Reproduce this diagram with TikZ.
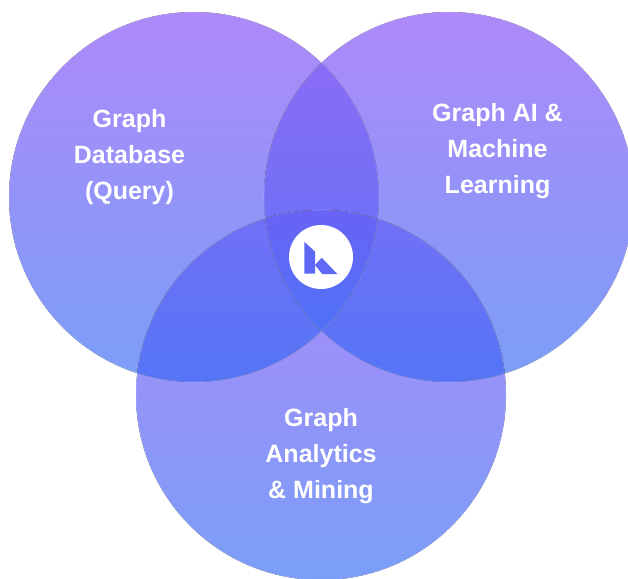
\documentclass[tikz,border=0pt]{standalone}
\usepackage{fontspec}
\setmainfont{Liberation Sans}
\definecolor{topc}{HTML}{AD89F9}
\definecolor{botc}{HTML}{7A9EF8}
\definecolor{pairtop}{HTML}{926AF6}
\definecolor{pairbot}{HTML}{5575F6}
\definecolor{tripletop}{HTML}{6A62F5}
\definecolor{triplebot}{HTML}{4E72F6}
\definecolor{logoc}{HTML}{5F69F5}
\tikzset{
  disc/.style={top color=topc,bottom color=botc,draw=none},
  pair/.style={top color=pairtop,bottom color=pairbot,draw=none},
  triple/.style={top color=tripletop,bottom color=triplebot,draw=none},
  rim/.style={draw=white,draw opacity=0.2,line width=0.8pt},
  lab/.style={text=white,align=center,font=\bfseries\fontsize{25}{36}\selectfont,inner sep=0pt},
  logodisc/.style={circle,fill=white,minimum size=64pt,inner sep=0pt},
  logomark/.style={fill=logoc,draw=none}
}
\newcommand{\cL}{(194,197) circle (185)}
\newcommand{\cR}{(449,197) circle (185)}
\newcommand{\cB}{(321,395) circle (185)}
\begin{document}
\begin{tikzpicture}[x=1pt,y=-1pt]
\useasboundingbox (0,0) rectangle (628,578);
\clip (0,0) rectangle (628,578);
\fill[disc] \cL;
\fill[disc] \cR;
\fill[disc] \cB;
% pairwise overlaps
\begin{scope}\clip \cL;\clip \cR;
  \fill[pair] (150,12) rectangle (500,382);
\end{scope}
\begin{scope}\clip \cL;\clip \cB;
  \fill[pair] (100,12) rectangle (400,382);
\end{scope}
\begin{scope}\clip \cR;\clip \cB;
  \fill[pair] (250,12) rectangle (550,382);
\end{scope}
% triple overlap
\begin{scope}\clip \cL;\clip \cR;\clip \cB;
  \fill[triple] (250,208) rectangle (400,332);
\end{scope}
% light hairlines along the disc edges
\draw[rim] \cL;
\draw[rim] \cR;
\draw[rim] \cB;
\node[lab] (query) at (129.5,157) {Graph\\Database\\(Query)};
\node[lab] (ai) at (497.5,151) {Graph AI \&\\Machine\\Learning};
\node[lab] (mining) at (321,456) {Graph\\Analytics\\\& Mining};
\node[logodisc] (logo) at (321,257) {};
\fill[logomark] (304.3,241.7) -- (315,251.7) -- (315,273.5) -- (304.3,273.5) -- cycle;
\fill[logomark] (315,265) -- (321.7,257.7) -- (337.3,274) -- (322.3,274) -- cycle;
\end{tikzpicture}
\end{document}
